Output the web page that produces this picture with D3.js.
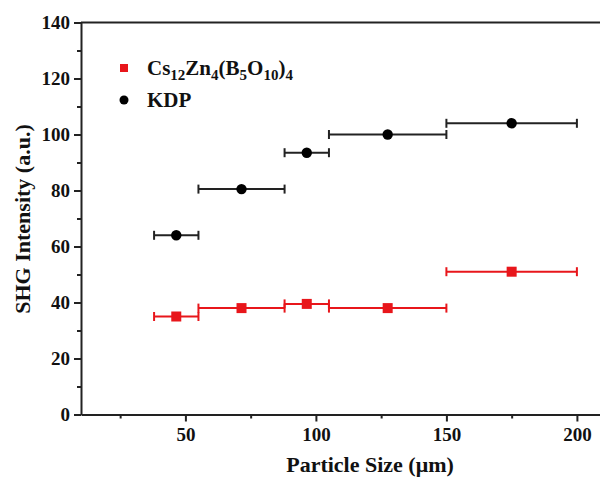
<!DOCTYPE html>
<html>
<head>
<meta charset="utf-8">
<script src="https://cdn.jsdelivr.net/npm/d3@7"></script>
<style>
  body { margin: 0; background: #fff; }
</style>
</head>
<body>
<div id="chart"></div>
<script>
// particle size bins (µm): centre, lower, upper
const sizeCentre = [46.5, 71.5, 96.5, 127.5, 175];
const sizeLow = [38, 55, 88, 105, 150];
const sizeHigh = [55, 88, 105, 150, 200];

const czbValues = [35, 38, 39.5, 38, 51];
const kdpValues = [64, 80.5, 93.5, 100, 104];

const xTicks = [50, 100, 150, 200];
const xMinor = [25, 75, 125, 175];
const yTicks = [0, 20, 40, 60, 80, 100, 120, 140];
const yMinor = [10, 30, 50, 70, 90, 110, 130];

const width = 600;
const height = 479;
const serif = "'Liberation Serif', 'Times New Roman', Times, serif";

const svg = d3
  .select("#chart")
  .append("svg")
  .attr("width", width)
  .attr("height", height)
  .style("font-family", serif)
  .style("font-weight", "bold");

const x = d3.scaleLinear().domain([10, 210]).range([81, 603]);
const y = d3.scaleLinear().domain([0, 140]).range([414.5, 22.5]);

const axisColor = "#222";

// frame: top border
svg
  .append("line")
  .attr("x1", x(10))
  .attr("x2", x(210))
  .attr("y1", y(140))
  .attr("y2", y(140))
  .attr("stroke", axisColor)
  .attr("stroke-width", 2);

const styleAxis = g => {
  g.attr("font-family", null).attr("font-size", null);
  g.select(".domain").attr("stroke", axisColor).attr("stroke-width", 2);
  g.selectAll(".tick line").attr("stroke", axisColor).attr("stroke-width", 2);
  g.selectAll(".tick text")
    .attr("fill", "#111")
    .style("font-family", serif)
    .style("font-size", "19px");
};

// x axis
const xAxis = svg
  .append("g")
  .attr("transform", `translate(0,${y(0)})`)
  .call(d3.axisBottom(x).tickValues(xTicks).tickSize(7).tickPadding(6).tickSizeOuter(0));
styleAxis(xAxis);

svg
  .append("g")
  .attr("transform", `translate(0,${y(0)})`)
  .call(d3.axisBottom(x).tickValues(xMinor).tickSize(4).tickFormat("").tickSizeOuter(0))
  .call(g => g.select(".domain").remove())
  .selectAll(".tick line")
  .attr("stroke", axisColor)
  .attr("stroke-width", 2);

// y axis
const yAxis = svg
  .append("g")
  .attr("transform", `translate(${x(10)},0)`)
  .call(d3.axisLeft(y).tickValues(yTicks).tickSize(7).tickPadding(4).tickSizeOuter(0));
styleAxis(yAxis);

svg
  .append("g")
  .attr("transform", `translate(${x(10)},0)`)
  .call(d3.axisLeft(y).tickValues(yMinor).tickSize(4).tickFormat("").tickSizeOuter(0))
  .call(g => g.select(".domain").remove())
  .selectAll(".tick line")
  .attr("stroke", axisColor)
  .attr("stroke-width", 2);

// axis titles
svg
  .append("text")
  .attr("x", 370)
  .attr("y", 472)
  .attr("text-anchor", "middle")
  .style("font-size", "22px")
  .attr("fill", "#111")
  .text("Particle Size (μm)");

svg
  .append("text")
  .attr("transform", "translate(30,219) rotate(-90)")
  .attr("text-anchor", "middle")
  .style("font-size", "22px")
  .attr("fill", "#111")
  .text("SHG Intensity (a.u.)");

// series with horizontal error bars
const makeRows = values =>
  values.map((v, i) => ({ c: sizeCentre[i], lo: sizeLow[i], hi: sizeHigh[i], v }));

const drawErrors = (rows, color) => {
  const g = svg.append("g").attr("stroke", color).attr("stroke-width", 2);
  g.selectAll(".bar")
    .data(rows)
    .enter()
    .append("line")
    .attr("x1", d => x(d.lo))
    .attr("x2", d => x(d.hi))
    .attr("y1", d => y(d.v))
    .attr("y2", d => y(d.v));
  g.selectAll(".capL")
    .data(rows)
    .enter()
    .append("line")
    .attr("x1", d => x(d.lo))
    .attr("x2", d => x(d.lo))
    .attr("y1", d => y(d.v) - 4.5)
    .attr("y2", d => y(d.v) + 4.5);
  g.selectAll(".capR")
    .data(rows)
    .enter()
    .append("line")
    .attr("x1", d => x(d.hi))
    .attr("x2", d => x(d.hi))
    .attr("y1", d => y(d.v) - 4.5)
    .attr("y2", d => y(d.v) + 4.5);
};

const czbRows = makeRows(czbValues);
const kdpRows = makeRows(kdpValues);

drawErrors(czbRows, "#e8161b");
drawErrors(kdpRows, "#222");

svg
  .selectAll(".czb")
  .data(czbRows)
  .enter()
  .append("rect")
  .attr("x", d => x(d.c) - 5)
  .attr("y", d => y(d.v) - 5)
  .attr("width", 10)
  .attr("height", 10)
  .attr("fill", "#e8161b");

svg
  .selectAll(".kdp")
  .data(kdpRows)
  .enter()
  .append("circle")
  .attr("cx", d => x(d.c))
  .attr("cy", d => y(d.v))
  .attr("r", 5.2)
  .attr("fill", "#000");

// legend
svg
  .append("rect")
  .attr("x", 120)
  .attr("y", 64)
  .attr("width", 8)
  .attr("height", 8)
  .attr("fill", "#e8161b");

const czbLabel = svg
  .append("text")
  .attr("x", 147)
  .attr("y", 75)
  .style("font-size", "21px")
  .attr("fill", "#111");
let shifted = false;
[["Cs", false], ["12", true], ["Zn", false], ["4", true], ["(B", false], ["5", true], ["O", false], ["10", true], [")", false], ["4", true]].forEach(
  ([t, sub]) => {
    const dy = sub === shifted ? 0 : sub ? 5 : -5;
    shifted = sub;
    czbLabel
      .append("tspan")
      .attr("dy", dy)
      .style("font-size", sub ? "15px" : "21px")
      .text(t);
  }
);

svg
  .append("circle")
  .attr("cx", 124)
  .attr("cy", 100)
  .attr("r", 4.5)
  .attr("fill", "#000");

svg
  .append("text")
  .attr("x", 147)
  .attr("y", 107)
  .style("font-size", "21px")
  .attr("fill", "#111")
  .text("KDP");
</script>
</body>
</html>
